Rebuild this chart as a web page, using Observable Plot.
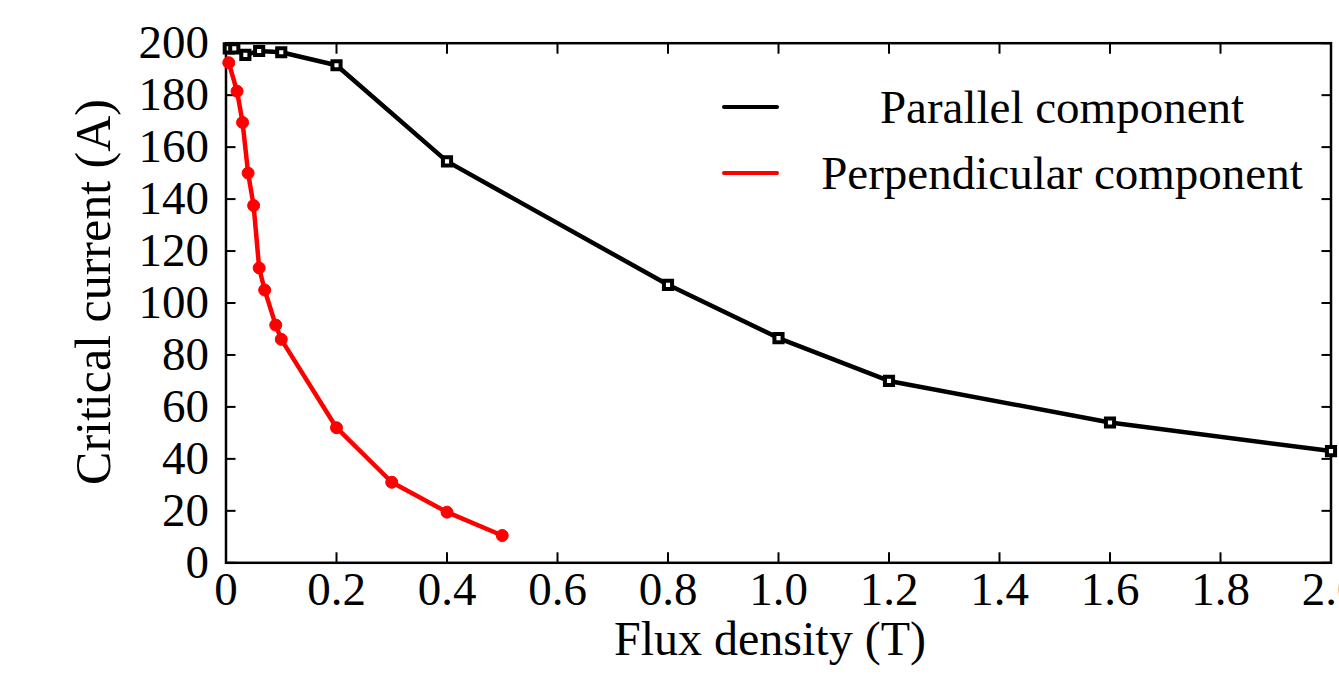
<!DOCTYPE html>
<html>
<head>
<meta charset="utf-8">
<script src="https://cdn.jsdelivr.net/npm/d3@7"></script>
<script src="https://cdn.jsdelivr.net/npm/@observablehq/plot@0.6"></script>
<style>
  html, body { margin: 0; padding: 0; background: #fff; }
  #chart { width: 1339px; height: 676px; overflow: hidden; }
</style>
</head>
<body>
<div id="chart"></div>
<script>
// ---- data ----
const parallelB = [0.005, 0.015, 0.035, 0.06, 0.1, 0.2, 0.4, 0.8, 1.0, 1.2, 1.6, 2.0];
const parallelIc = [198, 198, 195.5, 197, 196.5, 191.5, 154.5, 107, 86.5, 70, 54, 43];
const perpB = [0.005, 0.02, 0.03, 0.04, 0.05, 0.06, 0.07, 0.09, 0.1, 0.2, 0.3, 0.4, 0.5];
const perpIc = [192.5, 181.5, 169.5, 150, 137.5, 113.5, 105, 91.5, 86, 52, 31, 19.5, 10.5];
const xTicks = [0, 0.2, 0.4, 0.6, 0.8, 1.0, 1.2, 1.4, 1.6, 1.8, 2.0];
const yTicks = [0, 20, 40, 60, 80, 100, 120, 140, 160, 180, 200];
const seriesNames = ["Parallel component", "Perpendicular component"];
const seriesColors = ["#000000", "#ff0000"];
const xTitle = "Flux density (T)";
const yTitle = "Critical current (A)";

const parallel = parallelB.map((b, i) => ({b, ic: parallelIc[i]}));
const perp = perpB.map((b, i) => ({b, ic: perpIc[i]}));

const FONT = "'Liberation Serif', 'Times New Roman', serif";
const FS = 47;

const W = 1339, H = 676;
const mL = 225.5, mR = 8.5, mT = 42.7, mB = 113.7;

const plot = Plot.plot({
  width: W,
  height: H,
  marginLeft: mL,
  marginRight: mR,
  marginTop: mT,
  marginBottom: mB,
  style: {fontFamily: FONT, fontSize: FS + "px", color: "#000", background: "#fff"},
  x: {domain: [0, 2], ticks: xTicks},
  y: {domain: [0, 200], ticks: yTicks},
  marks: [
    // inward ticks on all four sides
    Plot.axisX(xTicks, {anchor: "bottom", tickSize: -10, strokeWidth: 2, tickFormat: () => "", label: null}),
    Plot.axisX(xTicks, {anchor: "top", tickSize: -10, strokeWidth: 2, tickFormat: () => "", label: null}),
    Plot.axisY(yTicks, {anchor: "left", tickSize: -10, strokeWidth: 2, tickFormat: () => "", label: null}),
    Plot.axisY(yTicks, {anchor: "right", tickSize: -10, strokeWidth: 2, tickFormat: () => "", label: null}),
    // tick labels
    Plot.axisX(xTicks, {anchor: "bottom", tickSize: 0, tickPadding: 9, fontSize: FS, fontFamily: FONT,
      tickFormat: d => d === 0 ? "0" : d.toFixed(1), label: null}),
    Plot.axisY(yTicks, {anchor: "left", tickSize: 0, tickPadding: 17, fontSize: FS, fontFamily: FONT,
      tickFormat: d => String(d), label: null}),
    Plot.frame({stroke: "#000", strokeWidth: 2.5}),
    // series
    Plot.line(parallel, {x: "b", y: "ic", stroke: seriesColors[0], strokeWidth: 4.5}),
    Plot.dot(parallel, {x: "b", y: "ic", symbol: "square", r: 4.6, stroke: seriesColors[0], strokeWidth: 4, fill: "#fff"}),
    Plot.line(perp, {x: "b", y: "ic", stroke: seriesColors[1], strokeWidth: 4.5}),
    Plot.dot(perp, {x: "b", y: "ic", r: 6, fill: seriesColors[1], stroke: seriesColors[1], strokeWidth: 1})
  ]
});

document.getElementById("chart").appendChild(plot);

const svg = d3.select(plot);

// axis titles
svg.append("text")
  .attr("x", 770).attr("y", 638).attr("dy", "0.35em")
  .attr("text-anchor", "middle").attr("font-family", FONT).attr("font-size", 48).attr("fill", "#000")
  .text(xTitle);
svg.append("text")
  .attr("transform", "translate(92,292) rotate(-90)")
  .attr("dy", "0.35em")
  .attr("text-anchor", "middle").attr("font-family", FONT).attr("font-size", 50).attr("fill", "#000")
  .text(yTitle);

// legend
const leg = svg.append("g").attr("font-family", FONT).attr("font-size", FS);
const legY = [107, 173];
seriesNames.forEach((name, i) => {
  leg.append("line")
    .attr("x1", 724).attr("x2", 777)
    .attr("y1", legY[i]).attr("y2", legY[i])
    .attr("stroke", seriesColors[i]).attr("stroke-width", 4).attr("stroke-linecap", "round");
  leg.append("text")
    .attr("x", 1062).attr("y", legY[i]).attr("dy", "0.35em")
    .attr("text-anchor", "middle").attr("fill", "#000")
    .text(name);
});
</script>
</body>
</html>
